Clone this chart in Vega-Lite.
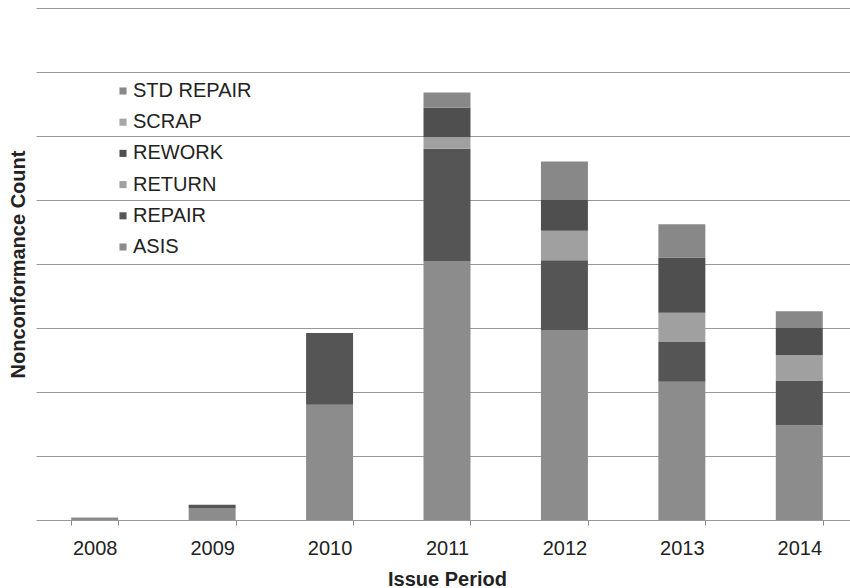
{
  "$schema": "https://vega.github.io/schema/vega-lite/v6.json",
  "width": 822,
  "height": 512,
  "autosize": "none",
  "padding": {"left": 36, "top": 8, "right": 0, "bottom": 68},
  "background": "white",
  "config": {
    "view": {"stroke": null},
    "font": "Liberation Sans"
  },
  "data": {
    "values": [
      {"year": "2008", "type": "ASIS", "count": 2},
      {"year": "2009", "type": "ASIS", "count": 9},
      {"year": "2009", "type": "REPAIR", "count": 3},
      {"year": "2010", "type": "ASIS", "count": 90},
      {"year": "2010", "type": "REPAIR", "count": 56},
      {"year": "2011", "type": "ASIS", "count": 202},
      {"year": "2011", "type": "REPAIR", "count": 88},
      {"year": "2011", "type": "RETURN", "count": 9},
      {"year": "2011", "type": "REWORK", "count": 23},
      {"year": "2011", "type": "STD REPAIR", "count": 12},
      {"year": "2012", "type": "ASIS", "count": 148},
      {"year": "2012", "type": "REPAIR", "count": 55},
      {"year": "2012", "type": "RETURN", "count": 23},
      {"year": "2012", "type": "REWORK", "count": 24},
      {"year": "2012", "type": "STD REPAIR", "count": 30},
      {"year": "2013", "type": "ASIS", "count": 108},
      {"year": "2013", "type": "REPAIR", "count": 31},
      {"year": "2013", "type": "RETURN", "count": 23},
      {"year": "2013", "type": "REWORK", "count": 43},
      {"year": "2013", "type": "STD REPAIR", "count": 26},
      {"year": "2014", "type": "ASIS", "count": 74},
      {"year": "2014", "type": "REPAIR", "count": 35},
      {"year": "2014", "type": "RETURN", "count": 20},
      {"year": "2014", "type": "REWORK", "count": 21},
      {"year": "2014", "type": "STD REPAIR", "count": 13}
    ]
  },
  "mark": {"type": "bar"},
  "encoding": {
    "x": {
      "field": "year",
      "type": "nominal",
      "scale": {"paddingInner": 0.6, "paddingOuter": 0.3},
      "axis": {
        "title": "Issue Period",
        "titleFontSize": 20,
        "titleFontWeight": "bold",
        "titleColor": "#222",
        "titlePadding": 11,
        "labelAngle": 0,
        "labelFontSize": 20,
        "labelColor": "#222",
        "labelPadding": 13,
        "tickBand": "extent",
        "tickSize": 5,
        "tickColor": "#888",
        "domainColor": "#999",
        "grid": false
      }
    },
    "y": {
      "field": "count",
      "type": "quantitative",
      "stack": "zero",
      "scale": {"domain": [0, 400], "nice": false},
      "axis": {
        "title": "Nonconformance Count",
        "titleFontSize": 20,
        "titleFontWeight": "bold",
        "titleColor": "#222",
        "titlePadding": 8,
        "values": [50, 100, 150, 200, 250, 300, 350, 400],
        "labels": false,
        "ticks": false,
        "domain": false,
        "grid": true,
        "gridColor": "#999",
        "gridWidth": 1
      }
    },
    "color": {
      "field": "type",
      "type": "nominal",
      "scale": {
        "domain": ["STD REPAIR", "SCRAP", "REWORK", "RETURN", "REPAIR", "ASIS"],
        "range": ["#888888", "#a6a6a6", "#4f4f4f", "#a0a0a0", "#555555", "#8c8c8c"]
      },
      "legend": {
        "title": null,
        "orient": "none",
        "legendX": 77,
        "legendY": 73,
        "symbolType": "square",
        "symbolSize": 50,
        "symbolStrokeWidth": 0,
        "labelFontSize": 20,
        "labelColor": "#222",
        "labelOffset": 0,
        "rowPadding": 11.2
      }
    },
    "order": {"field": "type", "sort": "ascending"}
  }
}
